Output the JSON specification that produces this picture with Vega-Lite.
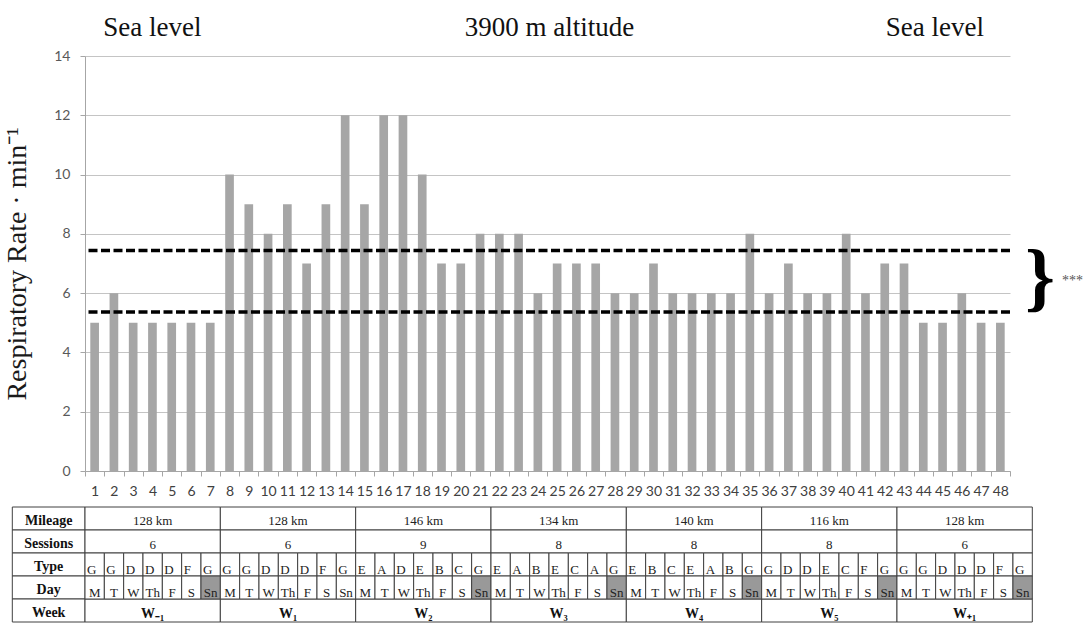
{
  "$schema": "https://vega.github.io/schema/vega-lite/v6.json",
  "background": "white",
  "padding": {"left": 3, "top": 14, "right": 0, "bottom": 0},
  "spacing": 8,
  "config": {"view": {"stroke": null}, "font": "Times New Roman", "text": {"font": "Times New Roman"}},
  "datasets": {
    "rates": [
      {"n": 1, "rate": 5}, {"n": 2, "rate": 6}, {"n": 3, "rate": 5}, {"n": 4, "rate": 5},
      {"n": 5, "rate": 5}, {"n": 6, "rate": 5}, {"n": 7, "rate": 5}, {"n": 8, "rate": 10},
      {"n": 9, "rate": 9}, {"n": 10, "rate": 8}, {"n": 11, "rate": 9}, {"n": 12, "rate": 7},
      {"n": 13, "rate": 9}, {"n": 14, "rate": 12}, {"n": 15, "rate": 9}, {"n": 16, "rate": 12},
      {"n": 17, "rate": 12}, {"n": 18, "rate": 10}, {"n": 19, "rate": 7}, {"n": 20, "rate": 7},
      {"n": 21, "rate": 8}, {"n": 22, "rate": 8}, {"n": 23, "rate": 8}, {"n": 24, "rate": 6},
      {"n": 25, "rate": 7}, {"n": 26, "rate": 7}, {"n": 27, "rate": 7}, {"n": 28, "rate": 6},
      {"n": 29, "rate": 6}, {"n": 30, "rate": 7}, {"n": 31, "rate": 6}, {"n": 32, "rate": 6},
      {"n": 33, "rate": 6}, {"n": 34, "rate": 6}, {"n": 35, "rate": 8}, {"n": 36, "rate": 6},
      {"n": 37, "rate": 7}, {"n": 38, "rate": 6}, {"n": 39, "rate": 6}, {"n": 40, "rate": 8},
      {"n": 41, "rate": 6}, {"n": 42, "rate": 7}, {"n": 43, "rate": 7}, {"n": 44, "rate": 5},
      {"n": 45, "rate": 5}, {"n": 46, "rate": 6}, {"n": 47, "rate": 5}, {"n": 48, "rate": 5}
    ],
    "means": [
      {"period": "3900 m altitude", "mean": 7.44},
      {"period": "Sea level", "mean": 5.36}
    ],
    "compare": [{"mid": 6.42, "sig": "***"}],
    "weeks": [
      {"week": "W₋₁", "km": "128 km", "sessions": "6"},
      {"week": "W₁", "km": "128 km", "sessions": "6"},
      {"week": "W₂", "km": "146 km", "sessions": "9"},
      {"week": "W₃", "km": "134 km", "sessions": "8"},
      {"week": "W₄", "km": "140 km", "sessions": "8"},
      {"week": "W₅", "km": "116 km", "sessions": "8"},
      {"week": "W₊₁", "km": "128 km", "sessions": "6"}
    ],
    "days": [
      {"day": 1, "type": "G", "wd": "M", "rest": "no"},
      {"day": 2, "type": "G", "wd": "T", "rest": "no"},
      {"day": 3, "type": "D", "wd": "W", "rest": "no"},
      {"day": 4, "type": "D", "wd": "Th", "rest": "no"},
      {"day": 5, "type": "D", "wd": "F", "rest": "no"},
      {"day": 6, "type": "F", "wd": "S", "rest": "no"},
      {"day": 7, "type": "G", "wd": "Sn", "rest": "yes"},
      {"day": 8, "type": "G", "wd": "M", "rest": "no"},
      {"day": 9, "type": "G", "wd": "T", "rest": "no"},
      {"day": 10, "type": "D", "wd": "W", "rest": "no"},
      {"day": 11, "type": "D", "wd": "Th", "rest": "no"},
      {"day": 12, "type": "D", "wd": "F", "rest": "no"},
      {"day": 13, "type": "F", "wd": "S", "rest": "no"},
      {"day": 14, "type": "G", "wd": "Sn", "rest": "no"},
      {"day": 15, "type": "E", "wd": "M", "rest": "no"},
      {"day": 16, "type": "A", "wd": "T", "rest": "no"},
      {"day": 17, "type": "D", "wd": "W", "rest": "no"},
      {"day": 18, "type": "E", "wd": "Th", "rest": "no"},
      {"day": 19, "type": "B", "wd": "F", "rest": "no"},
      {"day": 20, "type": "C", "wd": "S", "rest": "no"},
      {"day": 21, "type": "G", "wd": "Sn", "rest": "yes"},
      {"day": 22, "type": "E", "wd": "M", "rest": "no"},
      {"day": 23, "type": "A", "wd": "T", "rest": "no"},
      {"day": 24, "type": "B", "wd": "W", "rest": "no"},
      {"day": 25, "type": "E", "wd": "Th", "rest": "no"},
      {"day": 26, "type": "C", "wd": "F", "rest": "no"},
      {"day": 27, "type": "A", "wd": "S", "rest": "no"},
      {"day": 28, "type": "G", "wd": "Sn", "rest": "yes"},
      {"day": 29, "type": "E", "wd": "M", "rest": "no"},
      {"day": 30, "type": "B", "wd": "T", "rest": "no"},
      {"day": 31, "type": "C", "wd": "W", "rest": "no"},
      {"day": 32, "type": "E", "wd": "Th", "rest": "no"},
      {"day": 33, "type": "A", "wd": "F", "rest": "no"},
      {"day": 34, "type": "B", "wd": "S", "rest": "no"},
      {"day": 35, "type": "G", "wd": "Sn", "rest": "yes"},
      {"day": 36, "type": "G", "wd": "M", "rest": "no"},
      {"day": 37, "type": "D", "wd": "T", "rest": "no"},
      {"day": 38, "type": "D", "wd": "W", "rest": "no"},
      {"day": 39, "type": "E", "wd": "Th", "rest": "no"},
      {"day": 40, "type": "C", "wd": "F", "rest": "no"},
      {"day": 41, "type": "F", "wd": "S", "rest": "no"},
      {"day": 42, "type": "G", "wd": "Sn", "rest": "yes"},
      {"day": 43, "type": "G", "wd": "M", "rest": "no"},
      {"day": 44, "type": "G", "wd": "T", "rest": "no"},
      {"day": 45, "type": "D", "wd": "W", "rest": "no"},
      {"day": 46, "type": "D", "wd": "Th", "rest": "no"},
      {"day": 47, "type": "D", "wd": "F", "rest": "no"},
      {"day": 48, "type": "F", "wd": "S", "rest": "no"},
      {"day": 49, "type": "G", "wd": "Sn", "rest": "yes"}
    ],
    "rowlabels": [
      {"label": "Mileage"}, {"label": "Sessions"}, {"label": "Type"}, {"label": "Day"}, {"label": "Week"}
    ]
  },
  "vconcat": [
    {
      "width": 925,
      "height": 415,
      "layer": [
        {
          "data": {"name": "rates"},
          "mark": {"type": "bar", "color": "#a6a6a6", "width": {"band": 0.45}},
          "encoding": {
            "x": {
              "field": "n", "type": "ordinal",
              "scale": {"paddingInner": 0, "paddingOuter": 0},
              "axis": {
                "title": null, "labelAngle": 0, "labelFont": "Lato", "labelFontSize": 14,
                "labelColor": "#404040", "tickBand": "extent", "tickSize": 5,
                "tickColor": "#a6a6a6", "domainColor": "#a6a6a6", "labelPadding": 8, "grid": false
              }
            },
            "y": {
              "field": "rate", "type": "quantitative",
              "scale": {"domain": [0, 14], "nice": false},
              "axis": {
                "title": "Respiratory Rate · min⁻¹",
                "values": [0, 2, 4, 6, 8, 10, 12, 14],
                "grid": true, "gridColor": "#c4c4c4", "domainColor": "#a6a6a6",
                "tickColor": "#a6a6a6", "tickSize": 5,
                "labelFont": "Lato", "labelFontSize": 14, "labelColor": "#595959", "labelPadding": 10,
                "titleFont": "Times New Roman", "titleFontSize": 28, "titleFontWeight": "normal",
                "titleColor": "#1a1a1a", "titlePadding": 22
              }
            }
          }
        },
        {
          "data": {"name": "means"},
          "mark": {"type": "rule", "color": "#000000", "strokeWidth": 3.5, "strokeDash": [9, 3.5]},
          "encoding": {"y": {"field": "mean", "type": "quantitative"}}
        },
        {
          "data": {"values": [{"label": "Sea level", "n": 4}]},
          "mark": {"type": "text", "font": "Times New Roman", "fontSize": 27, "baseline": "alphabetic", "color": "#111111"},
          "encoding": {
            "x": {"field": "n", "type": "ordinal", "bandPosition": 0.5},
            "y": {"datum": 14.67, "type": "quantitative"},
            "text": {"field": "label"}
          }
        },
        {
          "data": {"values": [{"label": "3900 m altitude", "n": 25}, {"label": "Sea level", "n": 45}]},
          "mark": {"type": "text", "font": "Times New Roman", "fontSize": 27, "baseline": "alphabetic", "color": "#111111"},
          "encoding": {
            "x": {"field": "n", "type": "ordinal", "bandPosition": 0.1},
            "y": {"datum": 14.67, "type": "quantitative"},
            "text": {"field": "label"}
          }
        },
        {
          "data": {"name": "compare"},
          "mark": {"type": "text", "font": "Times New Roman", "fontSize": 76, "fontWeight": "bold", "align": "left", "baseline": "middle", "dx": 15, "dy": -2, "color": "#000000"},
          "encoding": {
            "x": {"value": "width"},
            "y": {"field": "mid", "type": "quantitative"},
            "text": {"value": "}"}
          }
        },
        {
          "data": {"name": "compare"},
          "mark": {"type": "text", "font": "Times New Roman", "fontSize": 14, "align": "left", "baseline": "middle", "dx": 52, "color": "#555555"},
          "encoding": {
            "x": {"value": "width"},
            "y": {"field": "mid", "type": "quantitative"},
            "text": {"field": "sig"}
          }
        }
      ]
    },
    {
      "width": 947.3,
      "height": 115,
      "resolve": {"scale": {"x": "independent"}},
      "layer": [
        {
          "data": {"name": "rowlabels"},
          "encoding": {
            "y": {
              "field": "label", "type": "nominal",
              "scale": {"domain": ["Mileage", "Sessions", "Type", "Day", "Week"], "paddingInner": 0, "paddingOuter": 0},
              "axis": null
            }
          },
          "layer": [
            {
              "mark": {"type": "rect", "fill": "white", "stroke": "#404040", "strokeWidth": 1},
              "encoding": {
                "x": {"datum": -3.76, "type": "quantitative", "scale": {"domain": [0, 49]}, "axis": null},
                "x2": {"datum": 0}
              }
            },
            {
              "mark": {"type": "text", "font": "Times New Roman", "fontSize": 14, "fontWeight": "bold", "baseline": "middle", "dy": 2, "color": "#111111"},
              "encoding": {
                "x": {"datum": -1.88, "type": "quantitative", "scale": {"domain": [0, 49]}, "axis": null},
                "text": {"field": "label"}
              }
            }
          ]
        },
        {
          "data": {"name": "weeks"},
          "encoding": {
            "x": {
              "field": "week", "type": "nominal",
              "scale": {"domain": ["W₋₁", "W₁", "W₂", "W₃", "W₄", "W₅", "W₊₁"], "paddingInner": 0, "paddingOuter": 0},
              "axis": null
            }
          },
          "layer": [
            {
              "mark": {"type": "rect", "fill": "white", "stroke": "#404040", "strokeWidth": 1},
              "encoding": {"y": {"datum": "Mileage", "type": "nominal"}}
            },
            {
              "mark": {"type": "text", "font": "Times New Roman", "fontSize": 13, "baseline": "middle", "dy": 2, "color": "#222222"},
              "encoding": {"y": {"datum": "Mileage", "type": "nominal"}, "text": {"field": "km"}}
            },
            {
              "mark": {"type": "rect", "fill": "white", "stroke": "#404040", "strokeWidth": 1},
              "encoding": {"y": {"datum": "Sessions", "type": "nominal"}}
            },
            {
              "mark": {"type": "text", "font": "Times New Roman", "fontSize": 13, "baseline": "middle", "dy": 3, "color": "#222222"},
              "encoding": {"y": {"datum": "Sessions", "type": "nominal"}, "text": {"field": "sessions"}}
            },
            {
              "mark": {"type": "rect", "fill": "white", "stroke": "#404040", "strokeWidth": 1},
              "encoding": {"y": {"datum": "Week", "type": "nominal"}}
            },
            {
              "mark": {"type": "text", "font": "Times New Roman", "fontSize": 14, "fontWeight": "bold", "baseline": "middle", "dy": 3, "color": "#111111"},
              "encoding": {"y": {"datum": "Week", "type": "nominal"}, "text": {"field": "week"}}
            }
          ]
        },
        {
          "data": {"name": "days"},
          "encoding": {
            "x": {
              "field": "day", "type": "ordinal",
              "scale": {"paddingInner": 0, "paddingOuter": 0},
              "axis": null
            }
          },
          "layer": [
            {
              "mark": {"type": "rect", "fill": "white", "stroke": "#404040", "strokeWidth": 1},
              "encoding": {"y": {"datum": "Type", "type": "nominal"}}
            },
            {
              "mark": {"type": "text", "font": "Times New Roman", "fontSize": 13, "align": "left", "baseline": "middle", "dx": 2, "dy": 5, "color": "#222222"},
              "encoding": {
                "x": {"field": "day", "type": "ordinal", "bandPosition": 0},
                "y": {"datum": "Type", "type": "nominal"},
                "text": {"field": "type"}
              }
            },
            {
              "mark": {"type": "rect", "stroke": "#404040", "strokeWidth": 1},
              "encoding": {
                "y": {"datum": "Day", "type": "nominal"},
                "fill": {"field": "rest", "type": "nominal", "scale": {"domain": ["yes", "no"], "range": ["#999999", "#ffffff"]}, "legend": null}
              }
            },
            {
              "mark": {"type": "text", "font": "Times New Roman", "fontSize": 13, "baseline": "middle", "dy": 5, "color": "#222222"},
              "encoding": {"y": {"datum": "Day", "type": "nominal"}, "text": {"field": "wd"}}
            }
          ]
        }
      ]
    }
  ]
}
